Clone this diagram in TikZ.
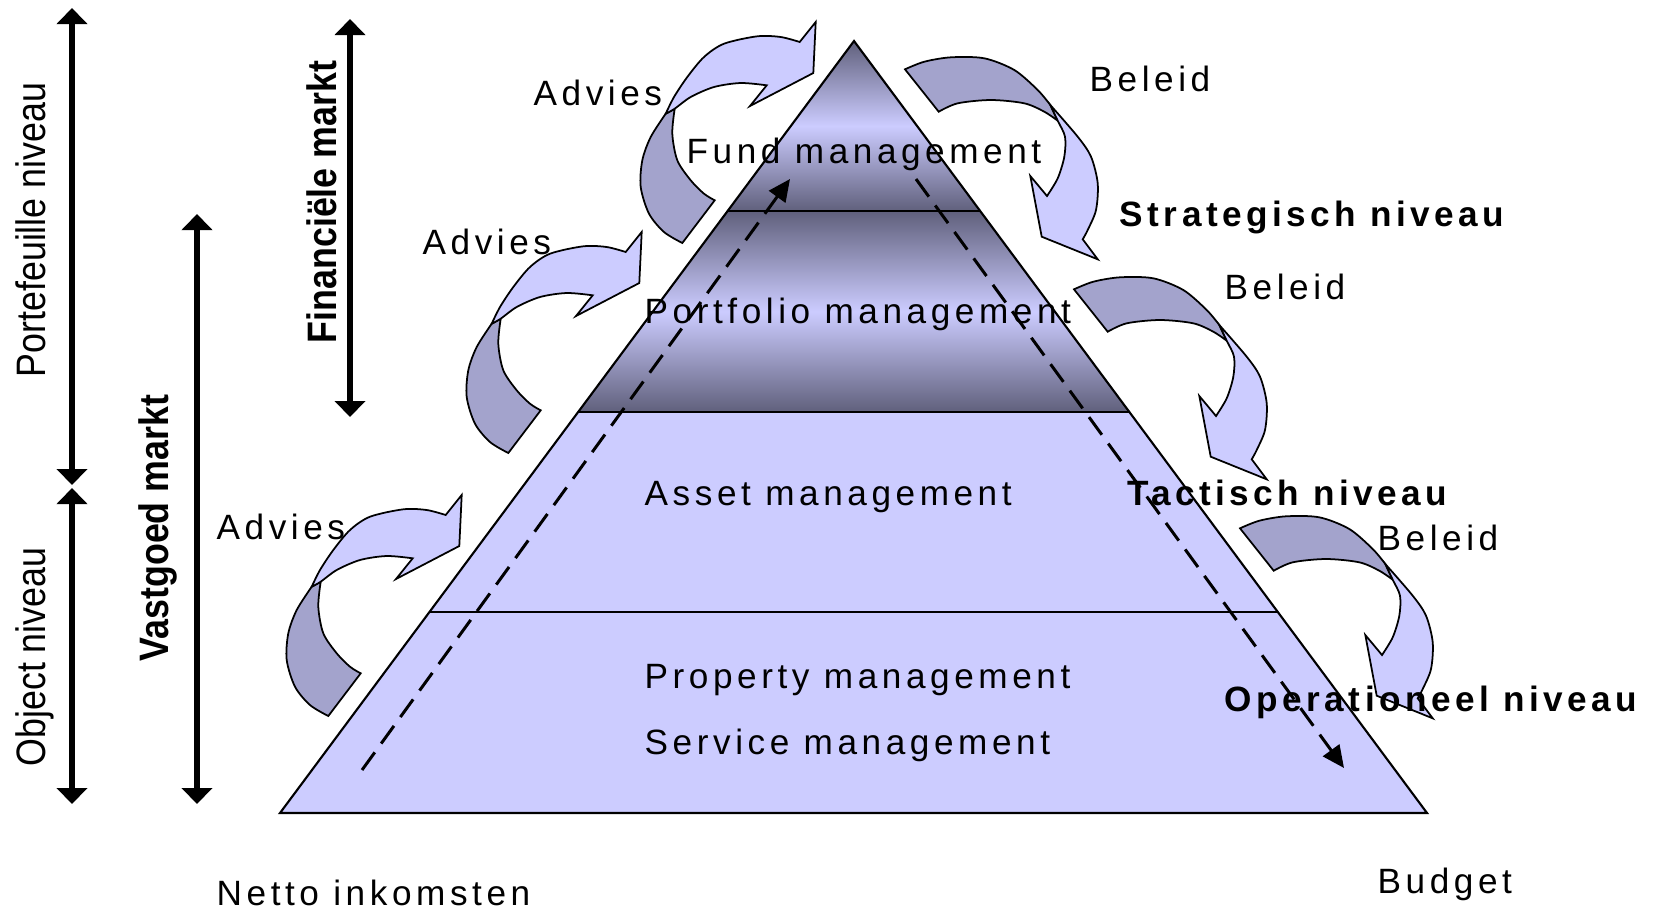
\documentclass[tikz,border=0pt]{standalone}
\usepackage{fontspec}
\usepackage{xcolor}
\usepackage{tikz}
\usetikzlibrary{calc,arrows.meta}

\newfontfamily\lblfont[LetterSpace=13]{Liberation Sans}
\newfontfamily\lvlfont[LetterSpace=12.8]{Liberation Sans}
\newfontfamily\sidefont[FakeStretch=0.87]{Liberation Sans}

\definecolor{lavlight}{RGB}{204,204,255}
\definecolor{lavback}{RGB}{163,163,204}
\definecolor{lavdark}{RGB}{96,96,124}

\tikzset{
  lbl/.style={font=\lblfont\fontsize{10}{12}\selectfont, inner sep=0pt, anchor=base west},
  lvl/.style={lbl, font=\lvlfont\bfseries\fontsize{10}{12}\selectfont},
  side/.style={font=\sidefont\fontsize{11.7}{14}\selectfont, inner sep=0pt, anchor=base, rotate=90},
  sidebold/.style={side, font=\sidefont\bfseries\fontsize{11.7}{14}\selectfont},
  span/.style={line width=1.9pt, {Triangle[width=0.3cm,length=0.16cm]}-{Triangle[width=0.3cm,length=0.16cm]}},
  flow/.style={line width=0.85pt, dash pattern=on 6.2pt off 3.1pt, -{Triangle[width=0.2cm,length=0.22cm]}},
  back/.style={fill=lavback, draw=black, line width=0.5pt},
  front/.style={fill=lavlight, draw=black, line width=0.5pt},
}

\begin{document}
\begin{tikzpicture}[x=0.01cm, y=-0.01cm]
        \useasboundingbox (0,0) rectangle (1655,908);

        % Pyramid
        \coordinate (apex) at (854,41);
        \coordinate (bl) at (280,813);
        \coordinate (br) at (1427,813);
        \foreach \n/\t in {a/0.2202, b/0.4806, c/0.7396} {
            \coordinate (l\n) at ($(apex)!\t!(bl)$);
            \coordinate (r\n) at ($(apex)!\t!(br)$);
        }
        \fill[lavlight] (apex) -- (br) -- (bl) -- cycle;
        \shade[top color=lavdark, bottom color=lavdark, middle color=lavlight] (apex) -- (ra) -- (la) -- cycle;
        \shade[top color=lavdark, bottom color=lavdark, middle color=lavlight] (la) -- (ra) -- (rb) -- (lb) -- cycle;
        \draw[line width=0.8pt] (la) -- (ra);
        \draw[line width=0.8pt] (lb) -- (rb);
        \draw[line width=0.6pt] (lc) -- (rc);
        \draw[line width=0.6pt] (apex) -- (br) -- (bl) -- cycle;

        % Dashed flows
        \coordinate (upS) at (362,770);
        \coordinate (upE) at (790,179);
        \coordinate (dnS) at (916,179);
        \coordinate (dnE) at (1344,768);
        \draw[flow] (upS) -- (upE);
        \draw[flow] (dnS) -- (dnE);

        % Advies arrows
        \foreach \dx/\dy in {354/-473, 180/-263, 0/0} {
            \begin{scope}[shift={(\dx,\dy)}]
                \filldraw[back] plot[smooth] coordinates {(311.7,586.7) (296.7,610) (288.3,633.3) (286.7,660) (295,686.7) (310,705) (328.3,716)}
                    -- (360.7,673.3) -- plot[smooth] coordinates {(360.7,673.3) (350,666.7) (336.7,653.3) (323.3,633.3) (318.3,606.7) (320.7,581.7)} -- cycle;
                \filldraw[front] plot[smooth] coordinates {(311.7,586.7) (320,570) (333.3,550) (350,530) (370,516.7) (403.3,509.3) (426.7,510) (445.7,515)}
                    -- (461.7,495) -- (459.3,546) -- (396,579) -- (412.7,558.3)
                    -- plot[smooth] coordinates {(412.7,558.3) (386.7,556) (360,560) (336.7,570) (320.7,581.7) (311.7,586.7)} -- cycle;
            \end{scope}
        }

        % Beleid arrows
        \foreach \dx/\dy in {-169/-220, 0/0, 166/239} {
            \begin{scope}[shift={(\dx,\dy)}]
                \filldraw[back] plot[smooth] coordinates {(1219.3,325) (1206.7,310) (1183.3,290) (1153.3,278.3) (1120,277.3) (1093.3,281.7) (1074,289.3)}
                    -- (1107.7,331.7) -- plot[smooth] coordinates {(1107.7,331.7) (1126.7,323.3) (1160,320) (1193.3,323.3) (1213.3,331.7) (1226.7,340.7)} -- cycle;
                \filldraw[front] plot[smooth] coordinates {(1219.3,325) (1246.7,356.7) (1260,376.7) (1266.7,403.3) (1265,430) (1256.7,450) (1251.7,459.3)}
                    -- (1266.7,479.3) -- (1210.7,456.7) -- (1199.3,396) -- (1216,416)
                    -- plot[smooth] coordinates {(1216,416) (1226.7,398.3) (1233.3,376.7) (1234,356.7) (1226.7,340.7) (1219.3,325)} -- cycle;
            \end{scope}
        }

        % Side spans
        \coordinate (pfT) at (72,8);
        \coordinate (pfB) at (72,485);
        \coordinate (obT) at (72,488);
        \coordinate (obB) at (72,804);
        \coordinate (vgT) at (197,214);
        \coordinate (vgB) at (197,804);
        \coordinate (fmT) at (350,19);
        \coordinate (fmB) at (350,417);
        \draw[span] (pfT) -- (pfB);
        \draw[span] (obT) -- (obB);
        \draw[span] (vgT) -- (vgB);
        \draw[span] (fmT) -- (fmB);
        \node[side] (portniv) at (45,230) {Portefeuille niveau};
        \node[side] (objniv) at (45,657) {Object niveau};
        \node[sidebold] (vastg) at (168,528) {Vastgoed markt};
        \node[sidebold] (finm) at (336,202) {Financiële markt};

        % Labels
        \node[lbl] (fund) at (686,163) {Fund management};
        \node[lbl] (portf) at (644,323) {Portfolio management};
        \node[lbl] (asset) at (644,505) {Asset management};
        \node[lbl] (prop) at (644,688) {Property management};
        \node[lbl] (serv) at (644,754) {Service management};
        \node[lbl] (advA) at (533,105) {Advies};
        \node[lbl] (advB) at (422,254) {Advies};
        \node[lbl] (advC) at (216,539) {Advies};
        \node[lbl] (belA) at (1089,91) {Beleid};
        \node[lbl] (belB) at (1224,299) {Beleid};
        \node[lbl] (belC) at (1377,550) {Beleid};
        \node[lvl] (strat) at (1119,226) {Strategisch niveau};
        \node[lvl] (tact) at (1127,505) {Tactisch niveau};
        \node[lvl] (oper) at (1224,711) {Operationeel niveau};
        \node[lbl] (netto) at (216,905) {Netto inkomsten};
        \node[lbl] (budget) at (1377,893) {Budget};
    \end{tikzpicture}
\end{document}
